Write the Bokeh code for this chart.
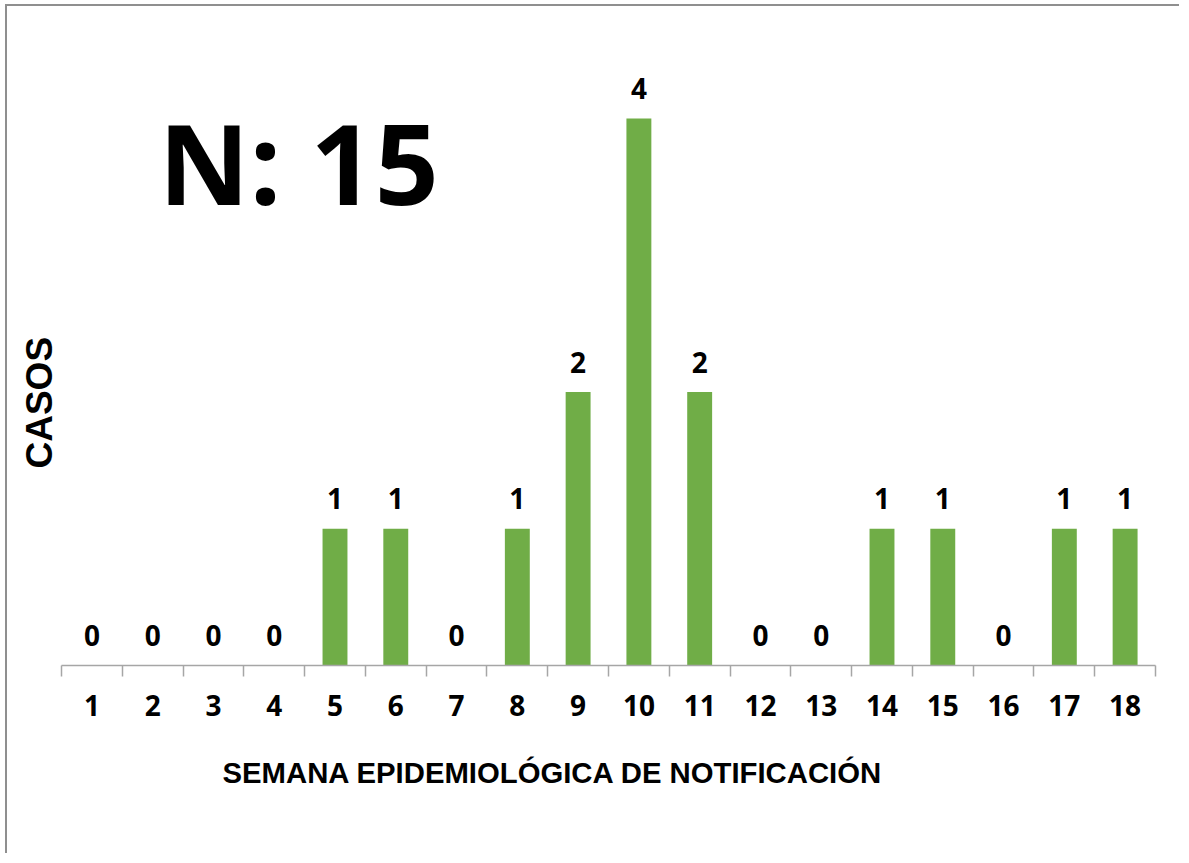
from bokeh.plotting import figure
from bokeh.models import Range1d, FixedTicker, Label, ColumnDataSource, Title
from bokeh.core.properties import value
from bokeh.embed import file_html
from bokeh.resources import INLINE

# ---- data ----
weeks = list(range(1, 19))
cases = [0, 0, 0, 0, 1, 1, 0, 1, 2, 4, 2, 0, 0, 1, 1, 0, 1, 1]
week_labels = [str(w) for w in weeks]
total_label = "N: 15"
x_title = "SEMANA EPIDEMIOLÓGICA  DE NOTIFICACIÓN"
y_title = "CASOS"

BAR = "#70AD47"
W, H = 1174, 849
OX, OY = 7, 6  # canvas origin in the picture (margin + border)

FRAME_L, FRAME_R = 61 - OX, 1155 - OX
AXIS_Y = 665 - OY
YMAX = 4.6
UNIT = 136.75
TOP = int(round(AXIS_Y - YMAX * UNIT))

p = figure(width=W, height=H, output_backend="svg", toolbar_location=None,
           x_range=Range1d(0.5, 18.5), y_range=Range1d(0, YMAX),
           min_border_left=FRAME_L, min_border_right=W - FRAME_R,
           min_border_top=TOP, min_border_bottom=H - AXIS_Y)
p.styles = {"margin-top": "4px", "margin-left": "5px",
            "border-top": "2px solid #8f8f8f", "border-left": "2px solid #8f8f8f"}
p.outline_line_color = None
p.xgrid.visible = False
p.ygrid.visible = False
p.yaxis.visible = False
p.background_fill_color = "white"
p.border_fill_color = "white"

src = ColumnDataSource(dict(x=weeks, y=cases, lbl=[str(c) for c in cases]))
p.vbar(x="x", top="y", width=0.41, source=src, fill_color=BAR, line_color=None)
p.text(x="x", y="y", text="lbl", source=src, y_offset=-30,
       text_font=value("Open Sans"), text_font_style="bold", text_font_size="28px",
       text_align="center", text_baseline="alphabetic", text_color="black")

ax = p.xaxis[0]
ax.ticker = FixedTicker(ticks=weeks, minor_ticks=[w - 0.5 for w in weeks] + [weeks[-1] + 0.5])
ax.major_label_overrides = {w: l for w, l in zip(weeks, week_labels)}
ax.axis_line_color = "#a6a6a6"
ax.axis_line_width = 1.5
ax.major_tick_out = 0
ax.major_tick_in = 0
ax.minor_tick_out = 11
ax.minor_tick_in = 0
ax.minor_tick_line_color = "#a6a6a6"
ax.minor_tick_line_width = 1.5
ax.major_label_standoff = 18
ax.major_label_text_font = "Open Sans"
ax.major_label_text_font_style = "bold"
ax.major_label_text_font_size = "28px"
ax.major_label_text_color = "black"

def dx(px):
    return 0.5 + (px - OX - FRAME_L) / ((FRAME_R - FRAME_L) / 18.0)

def dy(py):
    return (AXIS_Y - (py - OY)) / UNIT

p.add_layout(Label(x=dx(158), y=dy(161), text=total_label, text_font="Open Sans",
                   text_font_style="bold", text_font_size="112px", text_color="black",
                   text_align="left", text_baseline="alphabetic"))

xt = Title(text=x_title, align="left", offset=222 - 61, standoff=70,
           text_font="Liberation Sans", text_font_style="bold",
           text_font_size="29.3px", text_color="black")
p.add_layout(xt, "below")

yt = Title(text=y_title, align="left", offset=665 - 468, standoff=4,
           text_font="Liberation Sans", text_font_style="bold",
           text_font_size="37px", text_color="black")
p.add_layout(yt, "left")

open("out.html", "w").write(file_html(p, INLINE))
